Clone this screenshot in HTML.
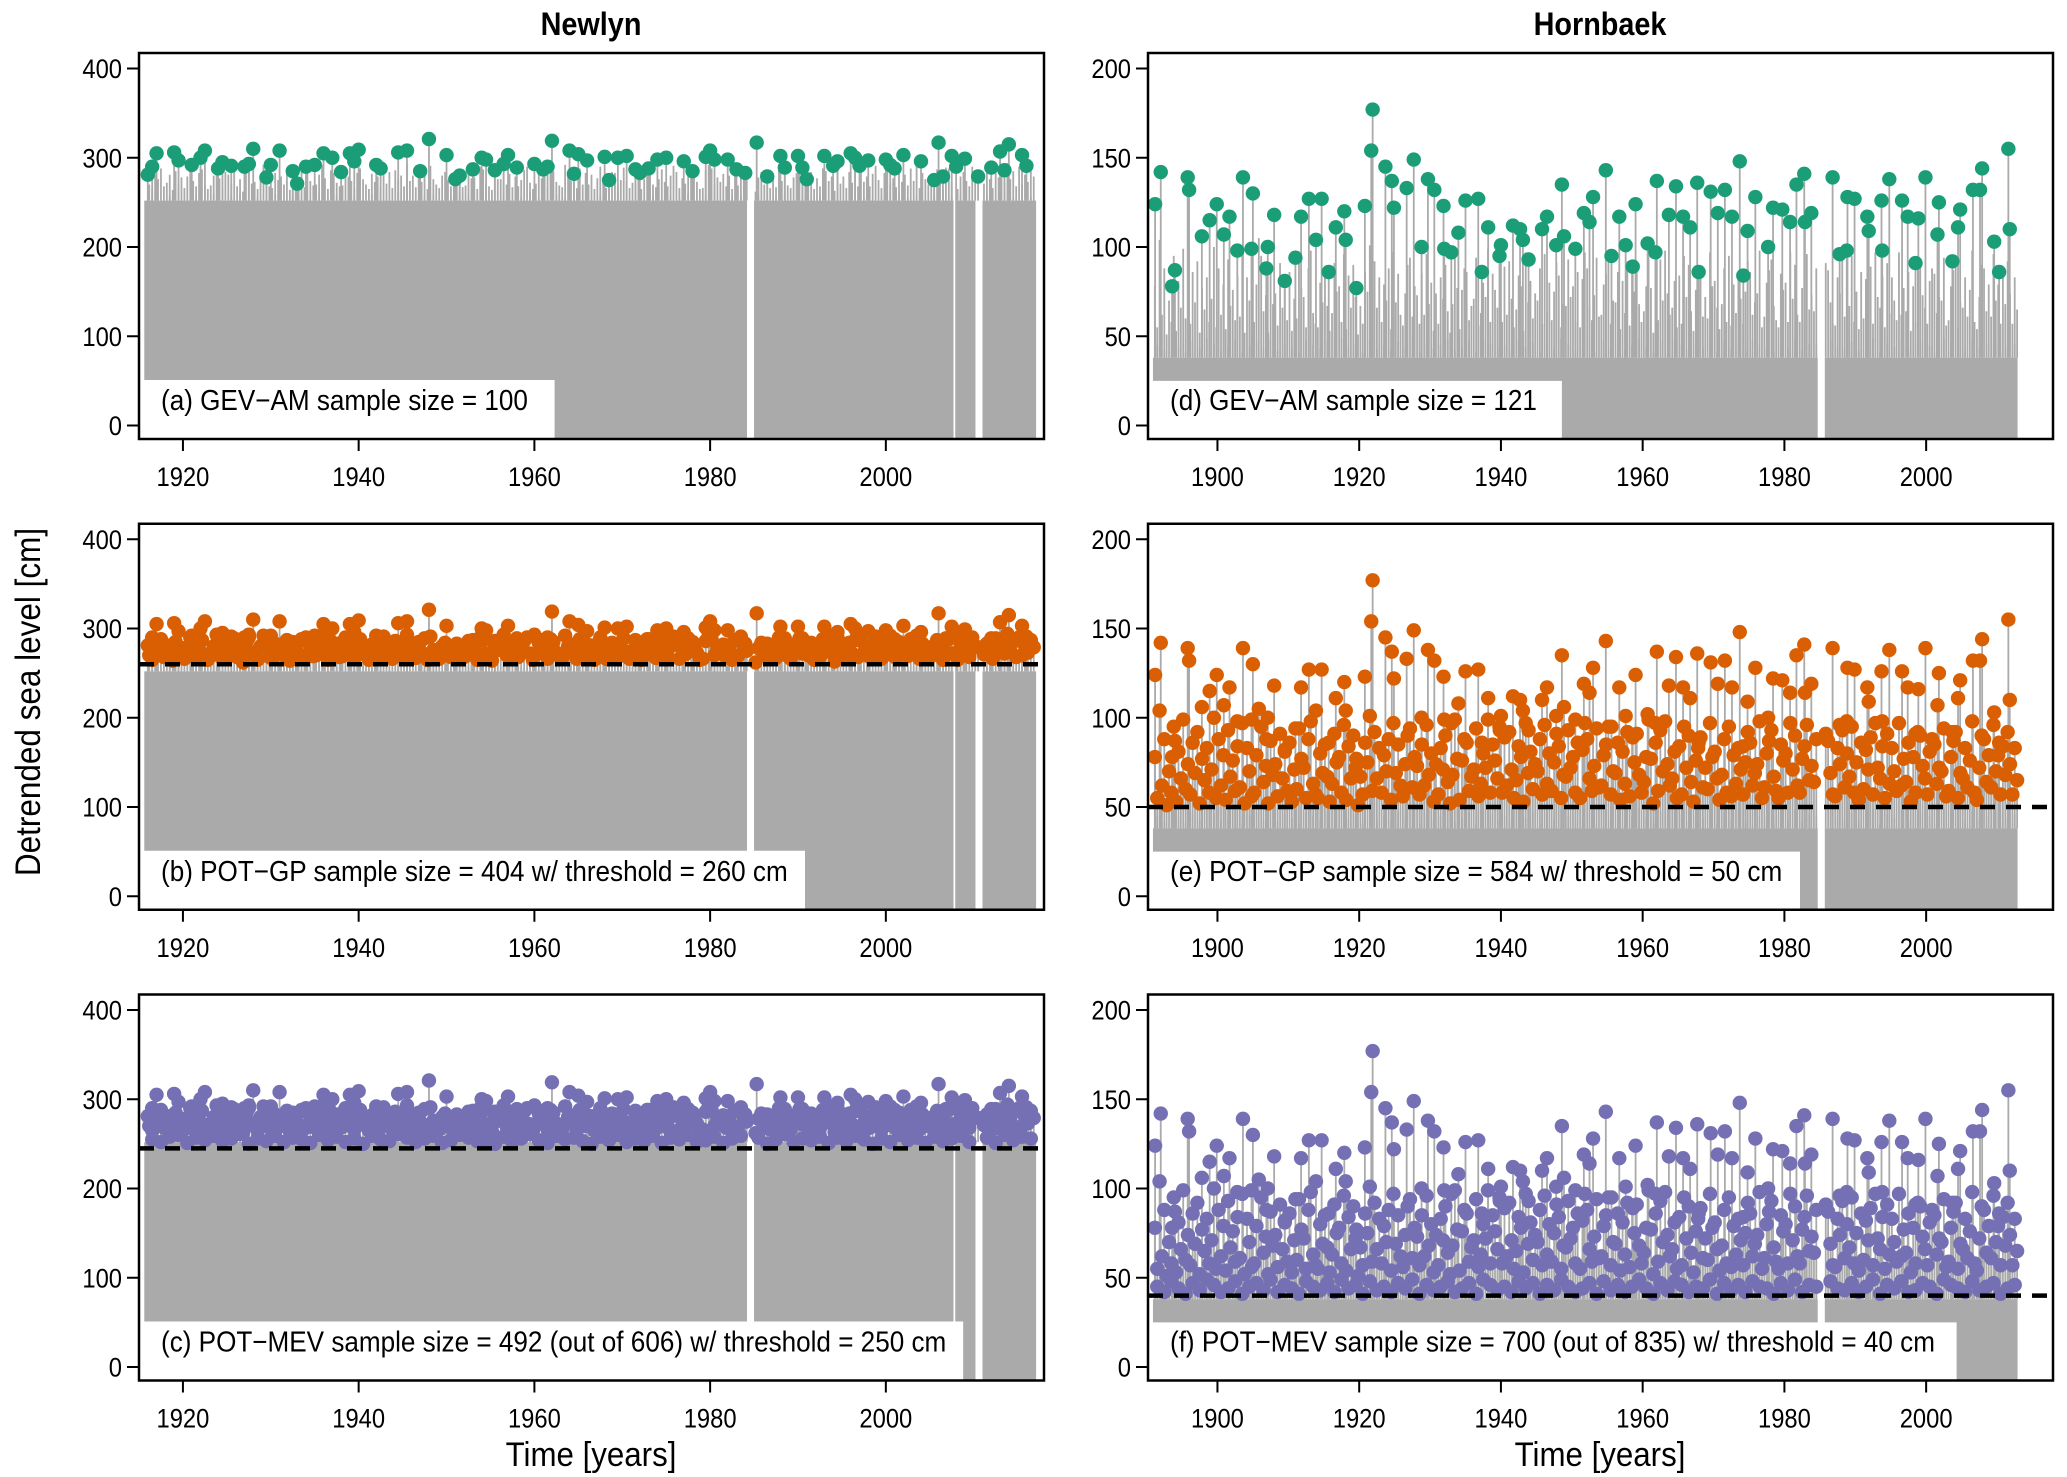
<!DOCTYPE html>
<html><head><meta charset="utf-8"><style>
html,body{margin:0;padding:0;background:#fff}
svg{display:block;font-family:"Liberation Sans",Arial,sans-serif}
</style></head><body>
<svg id="fig" width="2067" height="1477" viewBox="0 0 2067 1477"></svg>
<script>
// ---------- DATA ----------
const nlAmYears=[1916,1916.5,1917,1919,1919.5,1921,1922,1922.5,1924,1924.5,1925.5,1927,1927.5,1928,1929.5,1930,1931,1932.5,1933,1934,1935,1936,1937,1938,1939,1939.5,1940,1942,1942.5,1944.5,1945.5,1947,1948,1950,1951,1951.5,1953,1954,1954.5,1955.5,1956.5,1957,1958,1960,1961,1961.5,1962,1964,1964.5,1965,1966,1968,1968.5,1969.5,1970.5,1971.5,1972,1973,1974,1975,1977,1978,1979.5,1980,1980.5,1982,1983,1984,1985.3,1986.5,1988,1988.5,1990,1990.5,1991,1993,1994,1994.5,1996,1996.5,1997,1998,2000,2000.5,2001,2002,2004,2005.5,2006,2006.5,2007.5,2008,2009,2010.5,2012,2013,2013.5,2014,2015.5,2016];
const nlAmVals=[281,290,305,306,297,292,300,308,288,295,291,290,293,310,278,292,308,285,271,290,292,305,300,284,305,296,309,292,288,306,308,285,321,303,276,280,287,300,298,286,293,303,289,293,287,290,319,308,282,304,297,301,275,300,302,287,283,288,298,300,296,285,301,308,298,298,287,283,317,279,302,289,302,289,276,302,291,296,305,300,291,297,298,292,288,303,296,275,317,279,302,290,299,279,289,307,286,315,303,291];
const nlExtraStart=1916;
const nlPotExtra=[270,265,283,276,288,268,272,281,264,285,270,278,266,279,290,274,268,283,287,271,265,269,280,293,277,266,284,281,270,289,
268,276,262,284,290,271,273,265,280,292,278,268,266,283,275,279,270,287,264,276,282,272,288,267,285,274,269,270,281,292,
277,265,286,283,272,268,269,290,279,274,266,283,288,276,270,265,282,273,279,268,291,271,284,266,286,275,280,268,293,274,
280,267,285,273,289,265,291,276,270,266,280,284,275,268,278,283,271,267,269,286,277,278,265,290,287,272,268,264,281,276,
276,289,270,282,267,279,268,275,286,290,272,265,271,284,277,279,266,288,285,273,269,267,292,280,274,278,266,288,270,283,
270,281,265,277,290,272,266,279,284,283,268,275,289,274,266,272,285,279,265,276,288,281,270,267,276,287,273,268,280,291,
284,266,277,271,289,280,279,273,265,266,286,292,288,270,278,273,282,268,280,265,287,269,291,276,275,268,272,262,278,284,
270,283,266,281,267,290,274,285,269,266,278,283,289,272,276,270,284,265,277,268,288,285,274,279,263,290,271,279,266,284,
272,287,268,286,273,279,268,282,291,275,266,283,290,271,277,267,285,273,281,269,288,274,292,266,283,276,270,269,281,287,
277,265,289,288,272,280,265,279,284,274,268,290,280,286,267,271,283,276,266,289,278,283,272,294,276,285,268,290,270,281,
273,287,279,285,268,292,271,280,276];
const nlMevExtra=[255,252,258,260,251,257,254,259,253,256,261,250,256,253,259,252,257,255,251,260,254,258,252,256,250,259,255,253,261,257,
252,256,259,251,254,260,257,253,255,250,258,252,256,261,254,251,259,255,257,253,250,258,254,260,252,256,253,259,251,257,
255,260,252,254,258,251,256,259,253,257,250,255,261,252,256,254,258,251,257,253,259,255,250,256,252,260,254,257,251,258,
253,256,259,252,255,257,251,260,254,258,256,253];
const nlGpThreshold=260, nlMevThreshold=245;

const hbAmYears=[1891.2,1892,1893.6,1894,1895.8,1896,1897.8,1898.9,1899.9,1900.9,1901.7,1902.8,1903.6,1904.8,1905,1906.9,1907.1,1908,1909.5,1911,1911.8,1912.9,1913.9,1914.7,1915.7,1916.7,1917.9,1918.1,1919.6,1920.8,1921.7,1921.9,1923.7,1924.6,1924.9,1926.7,1927.7,1928.8,1929.7,1930.6,1931.9,1932,1933,1934,1935,1936.8,1937.3,1938.2,1939.8,1940,1941.7,1942.7,1943.1,1943.9,1945.8,1946.5,1947.8,1948.6,1948.9,1950.5,1951.7,1952.5,1953,1954.8,1955.6,1956.7,1957.6,1958.6,1959,1960.7,1961.8,1962,1963.7,1964.7,1965.7,1966.7,1967.7,1967.9,1969.6,1970.6,1971.6,1972.6,1973.7,1974.2,1974.8,1975.9,1977.7,1978.4,1979.7,1980.8,1981.7,1982.8,1982.9,1983.8,1986.8,1987.8,1988.8,1988.9,1989.9,1991.7,1991.9,1993.7,1993.8,1994.8,1996.6,1997.4,1998.5,1998.9,1999.9,2001.6,2001.8,2003.7,2004.5,2004.8,2006.6,2007.6,2007.9,2009.6,2010.3,2011.6,2011.8];
const hbAmVals=[124,142,78,87,139,132,106,115,124,107,117,98,139,99,130,88,100,118,81,94,117,127,104,127,86,111,120,104,77,123,154,177,145,137,122,133,149,100,138,132,123,99,97,108,126,127,86,111,95,101,112,110,104,93,110,117,101,135,106,99,119,114,128,143,95,117,101,89,124,102,97,137,118,134,117,111,136,86,131,119,132,117,148,84,109,128,100,122,121,114,135,141,114,119,139,96,98,128,127,117,109,126,98,138,126,117,91,116,139,107,125,92,111,121,132,132,144,103,86,155,110];
const hbExtraStart=1891;
const hbPotExtra=[78,55,104,62,88,51,70,58,95,53,81,66,99,60,74,57,86,69,92,52,77,65,83,58,71,100,55,88,62,79,
54,93,67,76,59,84,61,97,52,83,70,56,58,79,105,95,64,73,52,87,68,74,56,91,66,82,59,86,53,71,
60,94,77,72,55,88,98,63,57,55,80,69,85,67,53,63,91,75,78,58,96,54,84,66,90,72,51,67,57,86,
75,101,59,92,66,83,58,79,70,88,54,97,69,85,62,56,74,90,94,61,78,73,57,85,62,96,68,80,53,74,
57,83,71,90,64,52,68,99,77,54,76,88,86,59,67,71,94,56,63,80,72,99,58,85,76,66,93,58,89,62,
92,71,55,65,84,78,53,97,69,81,60,74,70,88,57,96,63,80,59,75,91,84,55,68,67,93,72,78,58,86,
55,82,97,88,66,59,73,94,61,62,79,85,95,57,70,69,86,54,81,63,92,56,90,75,91,68,58,64,78,99,
77,52,86,59,93,70,98,74,62,66,81,55,84,57,95,72,90,64,53,76,83,89,61,72,60,97,78,81,66,54,
68,88,58,95,56,79,63,83,71,57,75,92,86,62,69,74,98,55,61,80,87,93,67,59,55,85,76,80,58,97,
71,90,62,58,77,84,96,65,73,64,88,56,79,60,91,87,69,57,56,83,74,93,61,80,67,95,58,75,54,86,
60,82,71,89,57,97,72,66,84,55,91,63,83,70,59,97,62,77,64,86,53,78,58,92,90,73,66,57,81,88,
85,63,72,70,94,56,59,78,87,92,55,69,66,83,61,76,98,58,54,72,90,88,64,79,61,96,70,79,57,84,
68,92,74,57,83,65];
const hbMevExtra=[45,42,48,44,41,47,43,49,46,42,44,48,41,45,47,43,49,42,46,44,41,48,45,43,47,42,49,44,46,41,
48,43,45,42,47,44,49,41,46,43,45,48,42,44,47,41,49,46,43,45,42,48,44,47,41,46,43,49,45,42,
44,47,41,48,43,46,42,45,49,44,41,47,43,48,46,42,45,44,49,41,47,43,46,42,48,45,44,41,47,43,
49,42,46,45,41,48,44,43,47,42,45,49,41,46,44,48,42,43,47,45,41,49,46,44,42,48,43,45,47,41,
44,46];
const hbGpThreshold=50, hbMevThreshold=40;

// gray record coverage [start,end] in years, and base level of dense record
const nlCoverage=[[1915.6,1984.2],[1985.0,2007.7],[2007.9,2010.2],[2011.0,2017.1]];
const hbCoverage=[[1890.9,1984.7],[1985.7,2012.9]];
const nlBase=252, hbBase=38;

// ---------- LAYOUT ----------
const svg=document.getElementById('fig');
const NS='http://www.w3.org/2000/svg';
function el(tag,attrs,parent){const e=document.createElementNS(NS,tag);for(const k in attrs)e.setAttribute(k,attrs[k]);(parent||svg).appendChild(e);return e;}
function txt(parent,x,y,size,anchor,s,sx){const e=el('text',{x:0,y:0,'font-size':size,'text-anchor':anchor,transform:'translate('+x+','+y+') scale('+(sx||0.9)+',1)'},parent);e.textContent=s;return e;}

const cols=[{x0:139,x1:1044,xmin:1915.0,xmax:2018.0,ymax:400,yt:[0,100,200,300,400],xt:[1920,1940,1960,1980,2000]},
            {x0:1148,x1:2053,xmin:1890.2,xmax:2017.9,ymax:200,yt:[0,50,100,150,200],xt:[1900,1920,1940,1960,1980,2000]}];
const rowTops=[53,523.75,994.5];
const H=386, TOPOFF=15.5, ZEROOFF=372.5;
const GREEN='#1b9e77',ORANGE='#d95f02',PURPLE='#7570b3',GRAY='#aaaaaa';

function buildExtra(arr,start,per){const out=[];arr.forEach((v,i)=>{out.push([start+Math.floor(i/per)+((i%per)+0.5)/per,v]);});return out;}
function inCov(cov,y){return cov.some(c=>y>=c[0]&&y<=c[1]);}

const nlAm=nlAmYears.map((y,i)=>[y,nlAmVals[i]]);
const hbAm=hbAmYears.map((y,i)=>[y,hbAmVals[i]]);
const nlPotE=buildExtra(nlPotExtra,nlExtraStart,3).filter(p=>inCov(nlCoverage,p[0]));
const nlMevE=buildExtra(nlMevExtra,nlExtraStart,1).filter(p=>inCov(nlCoverage,p[0]));
const hbPotE=buildExtra(hbPotExtra,hbExtraStart,3).filter(p=>inCov(hbCoverage,p[0]));
const hbMevE=buildExtra(hbMevExtra,hbExtraStart,1).filter(p=>inCov(hbCoverage,p[0]));

const panels=[
 {c:0,r:0,id:'a',pts:nlAm,color:GREEN,label:'(a)  GEV\u2212AM sample size = 100',lbEnd:1962.3,lbTop:51,thr:null},
 {c:0,r:1,id:'b',pts:nlAm.concat(nlPotE.filter(p=>p[1]>=nlGpThreshold)),color:ORANGE,label:'(b)  POT\u2212GP sample size = 404 w/ threshold = 260 cm',lbEnd:1990.8,lbTop:51,thr:nlGpThreshold},
 {c:0,r:2,id:'c',pts:nlAm.concat(nlPotE,nlMevE),color:PURPLE,label:'(c)  POT\u2212MEV sample size = 492 (out of 606) w/ threshold = 250 cm',lbEnd:2008.8,lbTop:51,thr:nlMevThreshold},
 {c:1,r:0,id:'d',pts:hbAm,color:GREEN,label:'(d)  GEV\u2212AM sample size = 121',lbEnd:1948.6,lbTop:25,thr:null},
 {c:1,r:1,id:'e',pts:hbAm.concat(hbPotE.filter(p=>p[1]>=hbGpThreshold)),color:ORANGE,label:'(e)  POT\u2212GP sample size = 584 w/ threshold = 50 cm',lbEnd:1982.2,lbTop:25,thr:hbGpThreshold},
 {c:1,r:2,id:'f',pts:hbAm.concat(hbPotE,hbMevE),color:PURPLE,label:'(f)  POT\u2212MEV sample size = 700 (out of 835) w/ threshold = 40 cm',lbEnd:2004.3,lbTop:25,thr:hbMevThreshold}
];

panels.forEach(p=>{
  const C=cols[p.c], top=rowTops[p.r], bot=top+H;
  const xs=y=>C.x0+(y-C.xmin)/(C.xmax-C.xmin)*(C.x1-C.x0);
  const ys=v=>top+ZEROOFF-v/C.ymax*(ZEROOFF-TOPOFF);
  const g=el('g',{});
  
  
  const cov=p.c===0?nlCoverage:hbCoverage, base=p.c===0?nlBase:hbBase;
  const allStem=p.c===0?nlAm.concat(nlPotE,nlMevE):hbAm.concat(hbPotE,hbMevE);
  cov.forEach(c=>{const r=el('rect',{x:xs(c[0]),y:ys(base),width:xs(c[1])-xs(c[0]),height:bot-ys(base),fill:GRAY},g);
    });
  allStem.forEach(q=>{const l=el('line',{x1:xs(q[0]),x2:xs(q[0]),y1:ys(base),y2:ys(q[1]),stroke:GRAY,'stroke-width':1.8},g);
    });
  const lb=el('rect',{x:C.x0,y:ys(p.lbTop),width:xs(p.lbEnd)-C.x0,height:bot-ys(p.lbTop),fill:'#fff'},g);
  
  const lt=txt(g,C.x0+22,top+357,29,'start',p.label,0.9);
  
  p.pts.forEach(q=>{const d=el('circle',{cx:xs(q[0]),cy:ys(q[1]),r:7.2,fill:p.color},g);
    });
  if(p.thr!==null){const t=el('line',{x1:C.x0,x2:C.x1,y1:ys(p.thr),y2:ys(p.thr),stroke:'#000','stroke-width':4.5,'stroke-dasharray':'15,11'},g);
    }
  const b=el('rect',{x:C.x0,y:top,width:C.x1-C.x0,height:H,fill:'none',stroke:'#000','stroke-width':2.5},g);
  
  C.yt.forEach(v=>{const tk=el('line',{x1:C.x0-12,x2:C.x0,y1:ys(v),y2:ys(v),stroke:'#000','stroke-width':2},g);
    
    const tx=txt(g,C.x0-17,ys(v)+9.5,27,'end',String(v),0.88);
    });
  C.xt.forEach(v=>{const tk=el('line',{x1:xs(v),x2:xs(v),y1:bot,y2:bot+12,stroke:'#000','stroke-width':2},g);
    
    const tx=txt(g,xs(v),bot+47,27,'middle',String(v),0.88);
    });
});
</script>
<script>
(function(){
const svg=document.getElementById('fig');const NS='http://www.w3.org/2000/svg';
function t(tr,s,txt,extra,name){const e=document.createElementNS(NS,'text');e.setAttribute('x',0);e.setAttribute('y',0);e.setAttribute('font-size',s);e.setAttribute('text-anchor','middle');e.setAttribute('transform',tr);
 for(const k in extra)e.setAttribute(k,extra[k]);e.textContent=txt;
 
 
 svg.appendChild(e);}
t('translate(591,35) scale(0.9,1)',32,'Newlyn',{'font-weight':'bold'},'title-newlyn');
t('translate(1600,35) scale(0.9,1)',32,'Hornbaek',{'font-weight':'bold'},'title-hornbaek');
t('translate(591,1466) scale(0.92,1)',34,'Time [years]',{},'x-axis-title-left');
t('translate(1600,1466) scale(0.92,1)',34,'Time [years]',{},'x-axis-title-right');
t('translate(40,702) rotate(-90) scale(0.9,1)',35,'Detrended sea level [cm]',{},'y-axis-title');
})();
</script>
</body></html>
